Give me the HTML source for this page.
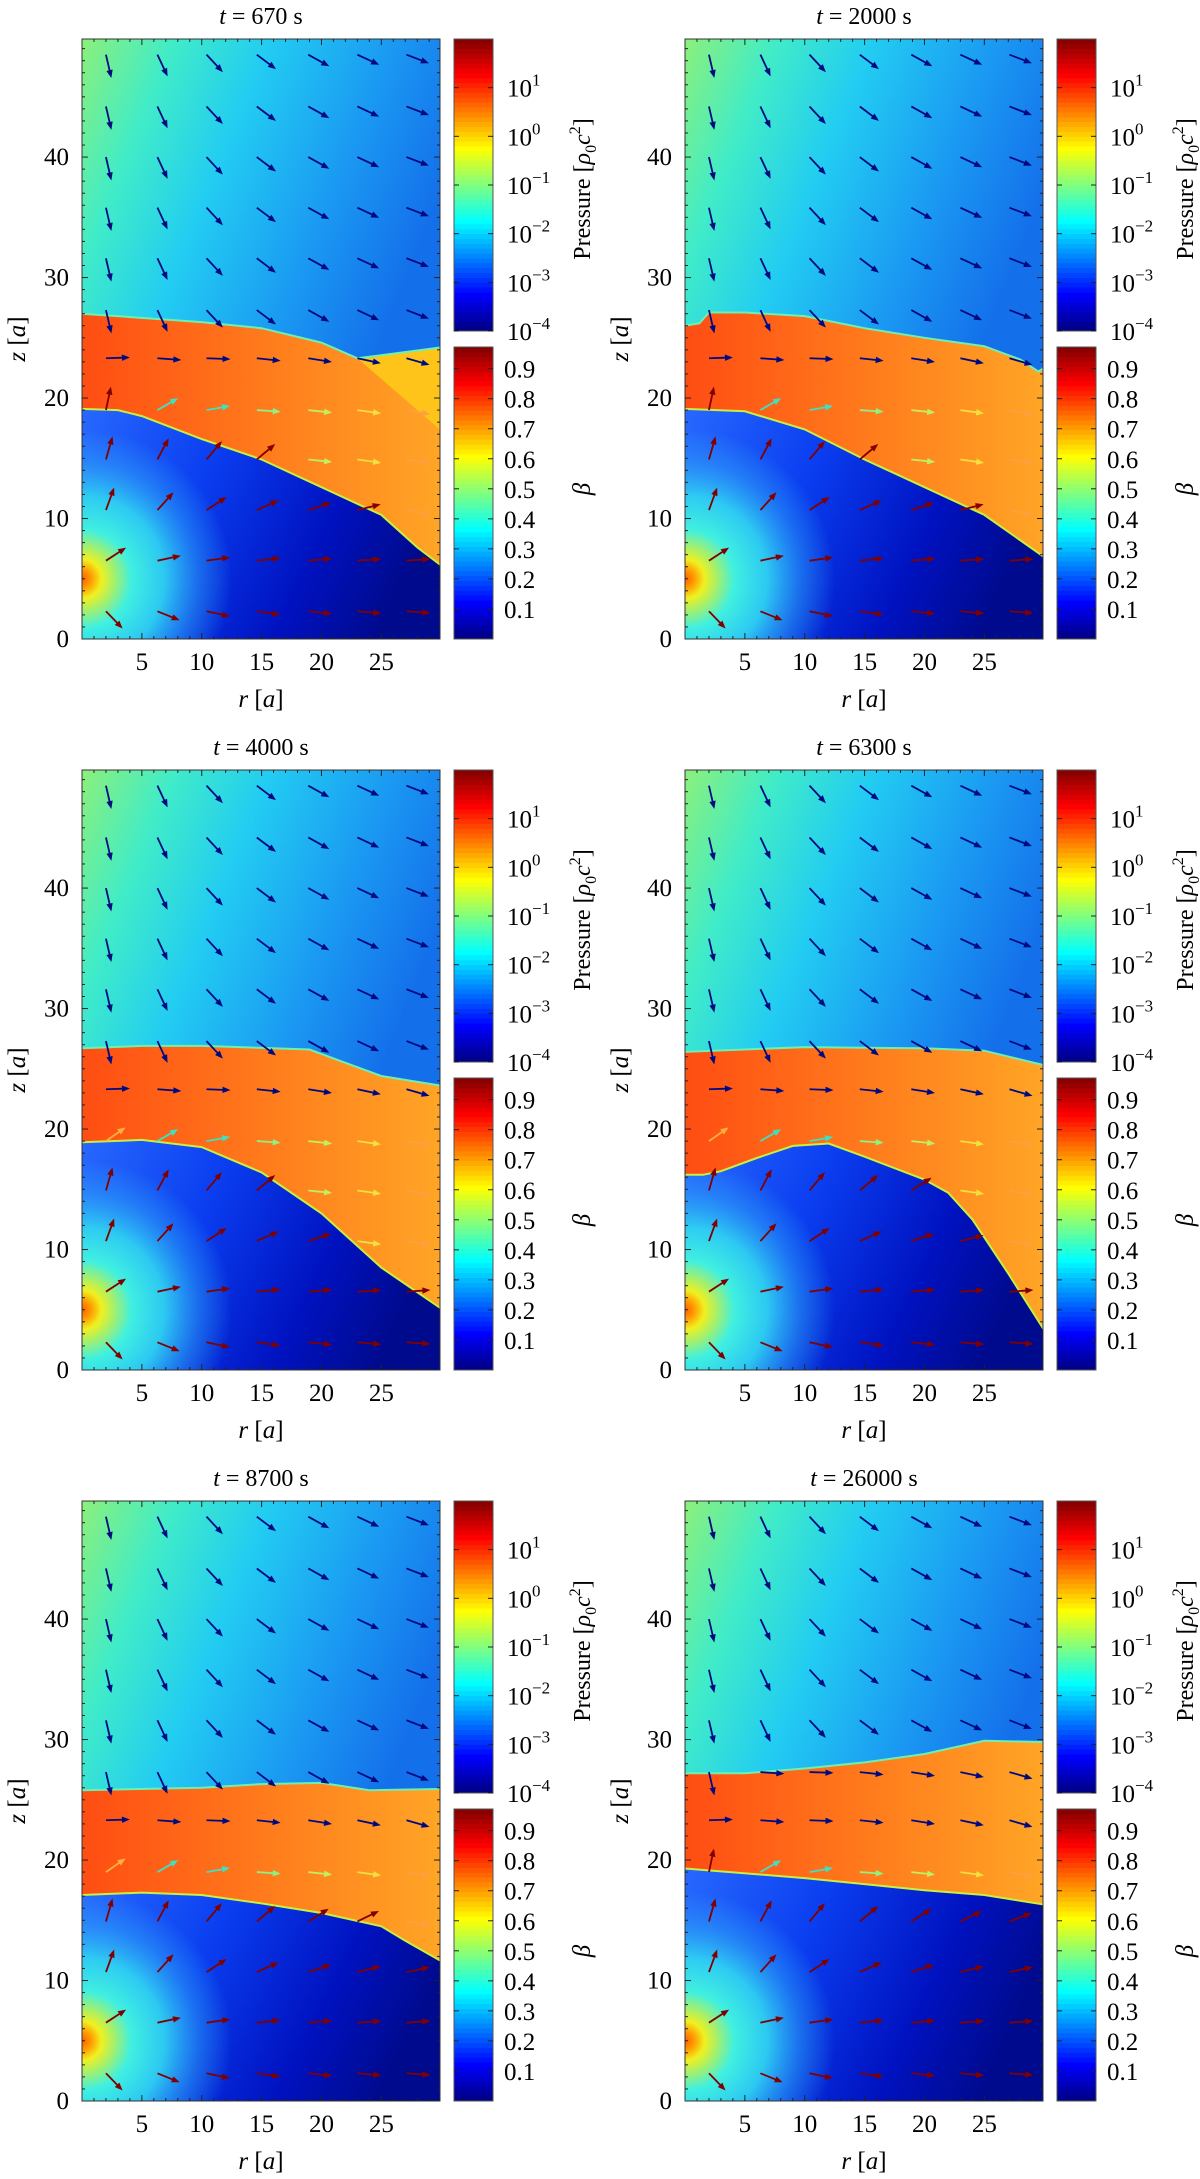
<!DOCTYPE html>
<html><head><meta charset="utf-8">
<style>
html,body{margin:0;padding:0;background:#fff;}
svg text{font-family:"Liberation Serif","DejaVu Serif",serif;fill:#000;}
</style></head>
<body>
<svg id="fig" width="1200" height="2174" viewBox="0 0 1200 2174" xmlns="http://www.w3.org/2000/svg">
<defs>
<linearGradient id="gUpper" x1="0" y1="0" x2="0.8" y2="0.55">
<stop offset="0" stop-color="#8cf07a"/><stop offset="0.22" stop-color="#40ecc8"/><stop offset="0.45" stop-color="#22ccf2"/><stop offset="0.75" stop-color="#1a98f2"/><stop offset="1" stop-color="#1470ea"/>
</linearGradient>
<linearGradient id="gBand" x1="0" y1="0" x2="1" y2="0">
<stop offset="0" stop-color="#ff4a12"/><stop offset="0.5" stop-color="#ff7a1c"/><stop offset="1" stop-color="#ffa826"/>
</linearGradient>
<linearGradient id="gLower" x1="0" y1="0" x2="1" y2="0.3">
<stop offset="0" stop-color="#2a6cff"/><stop offset="0.4" stop-color="#0a3ef0"/><stop offset="0.75" stop-color="#0012c0"/><stop offset="1" stop-color="#000a8c"/>
</linearGradient>
</defs>
</svg>
<script>
const titles = ['670','2000','4000','6300','8700','26000'];
const upperR = [[0,10,15,20,23,30],[0,1.2,2,5,10,15,20,25,28,29.5,30],[0,5,10,19,22,25,30],[0,10,20,25,30],[0,10,15,20,24,30],[0,5,10,15,20,25,30]];
const upperZ = [[27,26.3,25.8,24.6,23.3,24.2],[26,26.2,27.1,27.1,26.8,25.8,25,24.3,23.2,22.2,22.5],[26.7,26.9,26.9,26.6,25.5,24.4,23.6],[26.4,26.8,26.7,26.5,25.3],[25.8,26,26.3,26.4,25.8,25.9],[27.2,27.2,27.6,28.1,28.8,29.9,29.8]];
const lowerR = [[0,3,5,10,15,20,25,28,30],[0,5,10,15,20,25,30],[0,5,10,15,20,25,30],[0,1.5,3,6,9,12,15,20,22,24,27,30],[0,5,10,15,20,25,27,30],[0,10,15,20,25,30]];
const lowerZ = [[19.1,19,18.5,16.6,14.9,12.6,10.3,7.6,6.1],[19.1,18.9,17.4,14.9,12.6,10.3,6.8],[18.9,19.1,18.5,16.4,13,8.5,5.1],[16.2,16.2,16.5,17.6,18.6,18.8,17.7,15.8,14.7,12.5,8,3.3],[17.1,17.3,17.1,16.4,15.6,14.5,13.3,11.6],[19.3,18.5,18,17.5,17.1,16.3]];
const shockR = [23,30,30];
const shockZ = [23.3,24.2,17.3];
const arrowR = [2.0,6.3,10.4,14.6,18.9,23.0,27.1];
const arrowZ = [48.5,44.2,40,35.8,31.6,27.3,23.3,19.0,14.9,10.7,6.5,2.3];
const windAng = [-77,-65,-47,-37,-29,-25,-21];
const bandTopAng = [2,-4,-2,-6,-9,-12,-16];
const bandMidAng = [35,30,10,-4,-6,-8,-10];
const bandMidColor = ['#ffb040','#40e0c0','#40e0c0','#90f080','#c0f060','#f0e040','#ffa040'];
const lowAng19 = [78,65,52,42,34,28,23];
const lowAng15 = [74,62,50,40,32,26,21];
const lowAng11 = [70,48,33,24,18,14,12];
const lowAng6 = [33,12,8,6,5,4,4];
const lowAng2 = [-46,-22,-12,-8,-6,-5,-4];
const pTicks = ['1','0','−1','−2','−3','−4'];
const bTicks = [0.9,0.8,0.7,0.6,0.5,0.4,0.3,0.2,0.1];
const rTicks = [5,10,15,20,25];
const zTicks = [0,10,20,30,40];

const NS='http://www.w3.org/2000/svg';
const svg=document.getElementById('fig');
function mk(tag,attrs,parent){const e=document.createElementNS(NS,tag);for(const k in attrs)e.setAttribute(k,attrs[k]);(parent||svg).appendChild(e);return e;}
function jet(t){const r=Math.max(0,Math.min(1,Math.min(4*t-1.5,-4*t+4.5)));const g=Math.max(0,Math.min(1,Math.min(4*t-0.5,-4*t+3.5)));const b=Math.max(0,Math.min(1,Math.min(4*t+0.5,-4*t+2.5)));return `rgb(${Math.round(r*255)},${Math.round(g*255)},${Math.round(b*255)})`;}

const RMAX=29.9, ZMAX=49.8, PW=358, PH=600;
const colX=[82,685], rowY=[39,770,1501];

titles.forEach((t,i)=>{
  const X0=colX[i%2], Y0=rowY[Math.floor(i/2)];
  const sx=r=>X0+r*PW/RMAX, sy=z=>Y0+PH-z*PH/ZMAX;
  const g=mk('g',{});
  
  
  const cp=mk('clipPath',{id:'clip'+i},g);
  mk('rect',{x:X0,y:Y0,width:PW,height:PH},cp);
  const rg=mk('radialGradient',{id:'star'+i,gradientUnits:'userSpaceOnUse',cx:sx(0),cy:sy(5),r:150},g);
  [[0,'#ff6000',1],[0.06,'#ff9a00',1],[0.13,'#f0f020',1],[0.22,'#a0f070',1],[0.33,'#40f0e0',1],[0.55,'#30d8f2',0.9],[0.78,'#30b0f8',0.45],[1,'#30b0f8',0]].forEach(s=>mk('stop',{offset:s[0],'stop-color':s[1],'stop-opacity':s[2]},rg));
  const field=mk('g',{'clip-path':`url(#clip${i})`},g);
  
  
  const up=mk('rect',{x:X0,y:Y0,width:PW,height:PH,fill:'url(#gUpper)'},field);
  
  
  const curve=(R,Z)=>R.map((r,k)=>`${sx(r).toFixed(1)},${sy(Z[k]).toFixed(1)}`).join(' L');
  const uPath=`M${sx(-1)},${sy(upperZ[i][0])} L${curve(upperR[i],upperZ[i])} L${sx(31)},${sy(upperZ[i][upperZ[i].length-1])} L${sx(31)},${sy(-1)} L${sx(-1)},${sy(-1)} Z`;
  const band=mk('path',{d:uPath,fill:'url(#gBand)'},field);
  
  
  if(i===0){
    const sh=mk('path',{d:`M${curve(shockR,shockZ)} Z`,fill:'#ffc41a'},field);
    
    
  }
  const lPath=`M${sx(-1)},${sy(lowerZ[i][0])} L${curve(lowerR[i],lowerZ[i])} L${sx(31)},${sy(lowerZ[i][lowerZ[i].length-1])} L${sx(31)},${sy(-1)} L${sx(-1)},${sy(-1)} Z`;
  const low=mk('path',{d:lPath,fill:'url(#gLower)'},field);
  
  
  mk('path',{d:lPath,fill:`url(#star${i})`},field);
  const eu=mk('path',{d:`M${curve(upperR[i],upperZ[i])}`,fill:'none',stroke:'#70f0b0','stroke-width':2},field);
  
  
  const el2=mk('path',{d:`M${curve(lowerR[i],lowerZ[i])}`,fill:'none',stroke:'#c8f040','stroke-width':2},field);
  
  
  const interp=(R,Z,r)=>{for(let k=0;k<R.length-1;k++){if(r<=R[k+1])return Z[k]+(Z[k+1]-Z[k])*(r-R[k])/(R[k+1]-R[k]);}return Z[Z.length-1];};
  const lowSets={7:lowAng19,8:lowAng15,9:lowAng11,10:lowAng6,11:lowAng2};
  arrowZ.forEach((z,ri)=>{arrowR.forEach((r,ci)=>{
    const zu=interp(upperR[i],upperZ[i],r), zl=interp(lowerR[i],lowerZ[i],r);
    let ang,col;
    if(z>zu){ang=windAng[ci];col='#000a80';}
    else if(z<zl){ang=(lowSets[ri]||lowAng19)[ci];col='#800000';}
    else if(z>22){ang=bandTopAng[ci];col='#000a80';}
    else {ang=bandMidAng[ci];col=bandMidColor[ci];}
    const L=24, a=ang*Math.PI/180;
    const x1=sx(r),y1=sy(z),x2=x1+L*Math.cos(a),y2=y1-L*Math.sin(a);
    const ux=Math.cos(a),uy=-Math.sin(a);
    const ag=mk('g',{},field);
    
    
    mk('line',{x1:x1,y1:y1,x2:x2-ux*4,y2:y2-uy*4,stroke:col,'stroke-width':1.8},ag);
    mk('polygon',{points:`${x2},${y2} ${x2-ux*8-uy*3.2},${y2-uy*8+ux*3.2} ${x2-ux*8+uy*3.2},${y2-uy*8-ux*3.2}`,fill:col},ag);
  });});
  const fr=mk('rect',{x:X0,y:Y0,width:PW,height:PH,fill:'none',stroke:'#333','stroke-width':1},g);
  
  
  for(let r=1;r<=29;r++){const L=r%5?3:6;mk('line',{x1:sx(r),y1:Y0+PH,x2:sx(r),y2:Y0+PH-L,stroke:'#222'},g);mk('line',{x1:sx(r),y1:Y0,x2:sx(r),y2:Y0+L,stroke:'#222'},g);}
  for(let z=1;z<=49;z++){const L=z%10?3:6;mk('line',{x1:X0,y1:sy(z),x2:X0+L,y2:sy(z),stroke:'#222'},g);mk('line',{x1:X0+PW,y1:sy(z),x2:X0+PW-L,y2:sy(z),stroke:'#222'},g);}
  rTicks.forEach(v=>{const tx=mk('text',{x:sx(v),y:Y0+PH+31,'text-anchor':'middle','font-size':25},g);tx.textContent=v;});
  zTicks.forEach(v=>{const tx=mk('text',{x:X0-13,y:sy(v)+8,'text-anchor':'end','font-size':25},g);tx.textContent=v;});
  const tt=mk('text',{x:X0+PW/2,y:Y0-15,'text-anchor':'middle','font-size':24},g);
  tt.innerHTML=`<tspan font-style="italic">t</tspan> = ${t} s`;
  
  
  const xt=mk('text',{x:X0+PW/2,y:Y0+PH+68,'text-anchor':'middle','font-size':25},g);
  xt.innerHTML='<tspan font-style="italic">r</tspan> [<tspan font-style="italic">a</tspan>]';
  
  
  const yt=mk('text',{x:0,y:0,'text-anchor':'middle','font-size':25,transform:`translate(${X0-57},${Y0+300}) rotate(-90)`},g);
  yt.innerHTML='<tspan font-style="italic">z</tspan> [<tspan font-style="italic">a</tspan>]';
  
  
  const CX=X0+372, CW=39, pTop=Y0, pBot=Y0+292, bTop=Y0+308, bBot=Y0+PH;
  const pc=mk('g',{},g);
  
  
  const bc=mk('g',{},g);
  
  
  const N=60;
  for(let k=0;k<N;k++){
    const c=jet((k+0.5)/N);
    mk('rect',{x:CX,y:pBot-(k+1)*(pBot-pTop)/N,width:CW,height:(pBot-pTop)/N+0.4,fill:c},pc);
    mk('rect',{x:CX,y:bBot-(k+1)*(bBot-bTop)/N,width:CW,height:(bBot-bTop)/N+0.4,fill:c},bc);
  }
  mk('rect',{x:CX,y:pTop,width:CW,height:pBot-pTop,fill:'none',stroke:'#555'},pc);
  mk('rect',{x:CX,y:bTop,width:CW,height:bBot-bTop,fill:'none',stroke:'#555'},bc);
  const dec=(pBot-pTop)/6;
  pTicks.forEach((e,k)=>{const yy=pTop+dec*(k+1);
    mk('line',{x1:CX,y1:yy,x2:CX+5,y2:yy,stroke:'#222'},pc);mk('line',{x1:CX+CW,y1:yy,x2:CX+CW-5,y2:yy,stroke:'#222'},pc);
    const tx=mk('text',{x:CX+53,y:yy+9,'font-size':25},pc);
    tx.innerHTML=`10<tspan dy="-11" font-size="17">${e}</tspan>`;
    
    });
  const bs=(bBot-bTop)/0.972;
  bTicks.forEach(v=>{const yy=bBot-v*bs;
    mk('line',{x1:CX,y1:yy,x2:CX+5,y2:yy,stroke:'#222'},bc);mk('line',{x1:CX+CW,y1:yy,x2:CX+CW-5,y2:yy,stroke:'#222'},bc);
    const tx=mk('text',{x:CX+50,y:yy+9,'font-size':25},bc);
    tx.textContent=v.toFixed(1);
    
    });
  const pl=mk('text',{x:0,y:0,'text-anchor':'middle','font-size':24,transform:`translate(${CX+136},${Y0+150}) rotate(-90)`},pc);
  pl.innerHTML='Pressure [<tspan font-style="italic">ρ</tspan><tspan dy="6" font-size="16">0</tspan><tspan dy="-6" font-style="italic">c</tspan><tspan dy="-10" font-size="16">2</tspan><tspan dy="10">]</tspan>';
  
  
  const bl=mk('text',{x:0,y:0,'text-anchor':'middle','font-size':25,'font-style':'italic',transform:`translate(${CX+136},${Y0+450}) rotate(-90)`},bc);
  bl.textContent='β';
  
  
});
</script>
</body></html>
